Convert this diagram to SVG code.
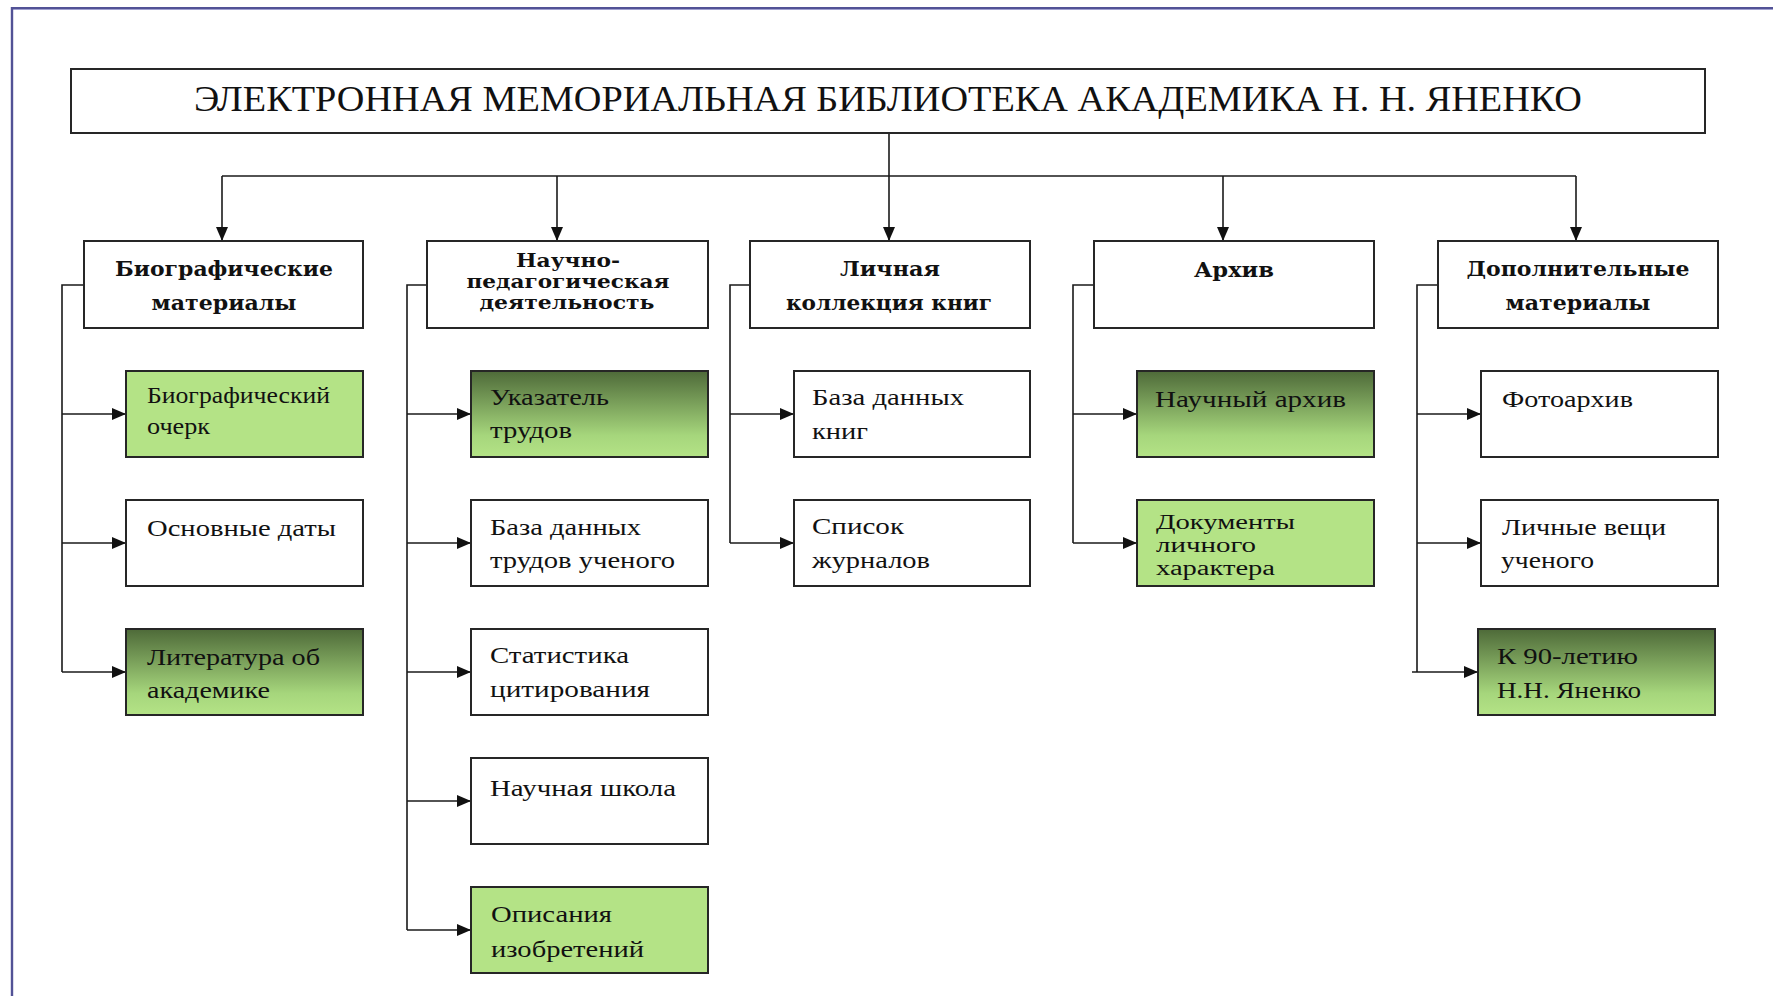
<svg xmlns="http://www.w3.org/2000/svg" width="1773" height="996" viewBox="0 0 1773 996">
<style>
.box{fill:#ffffff;stroke:#262626;stroke-width:2}
.lg{fill:#b4e386;stroke:#262626;stroke-width:2}
.gr{fill:url(#grad);stroke:#262626;stroke-width:2}
.ln{fill:none;stroke:#1a1a1a;stroke-width:1.6}
.ar{marker-end:url(#arr)}
.ttl{font-family:"Liberation Serif","Times New Roman",serif;font-size:35px;fill:#111}
.cat{font-family:"DejaVu Serif","Liberation Serif",serif;font-weight:bold;font-size:21px;fill:#111;text-anchor:middle}
.cat3{font-size:18px}
.ch{font-family:"Liberation Serif","Times New Roman",serif;font-size:24px;fill:#111}
.ch3{font-size:20px}
</style>
<defs>
<linearGradient id="grad" x1="0" y1="0" x2="0" y2="1">
<stop offset="0" stop-color="#4e6a39"/>
<stop offset="0.75" stop-color="#a6d67c"/>
<stop offset="1" stop-color="#b4e386"/>
</linearGradient>
<marker id="arr" markerUnits="userSpaceOnUse" markerWidth="14" markerHeight="12" refX="14" refY="6" orient="auto">
<path d="M0,0 L14,6 L0,12 z" fill="#111"/>
</marker>
</defs>
<rect width="1773" height="996" fill="#ffffff"/>
<g id="frame">
<line x1="12" y1="8" x2="1773" y2="8" stroke="#525296" stroke-width="2"/>
<line x1="12" y1="9.5" x2="1773" y2="9.5" stroke="#a0a0d0" stroke-width="1"/>
<line x1="12" y1="7" x2="12" y2="996" stroke="#525296" stroke-width="2.4"/>
</g>
<g id="connectors">
<path class="ln" d="M222,176 H1576"/>
<path class="ln ar" d="M889,133 V241"/>
<path class="ln ar" d="M222,176 V241"/>
<path class="ln ar" d="M557,176 V241"/>
<path class="ln ar" d="M1223,176 V241"/>
<path class="ln ar" d="M1576,176 V241"/>
<path class="ln" d="M84,285 H62 V672"/>
<path class="ln ar" d="M62,414 H126"/>
<path class="ln ar" d="M62,543 H126"/>
<path class="ln ar" d="M62,672 H126"/>
<path class="ln" d="M427,285 H407 V930"/>
<path class="ln ar" d="M407,414 H471"/>
<path class="ln ar" d="M407,543 H471"/>
<path class="ln ar" d="M407,672 H471"/>
<path class="ln ar" d="M407,801 H471"/>
<path class="ln ar" d="M407,930 H471"/>
<path class="ln" d="M750,285 H730 V543"/>
<path class="ln ar" d="M730,414 H794"/>
<path class="ln ar" d="M730,543 H794"/>
<path class="ln" d="M1094,285 H1073 V543"/>
<path class="ln ar" d="M1073,414 H1137"/>
<path class="ln ar" d="M1073,543 H1137"/>
<path class="ln" d="M1438,285 H1417 V672"/>
<path class="ln ar" d="M1417,414 H1481"/>
<path class="ln ar" d="M1417,543 H1481"/>
<path class="ln ar" d="M1412,672 H1478"/>
</g>
<g id="title">
<rect class="box" x="71" y="69" width="1634" height="64"/>
<text class="ttl" x="194" y="111" textLength="1388" lengthAdjust="spacingAndGlyphs">ЭЛЕКТРОННАЯ МЕМОРИАЛЬНАЯ БИБЛИОТЕКА АКАДЕМИКА Н. Н. ЯНЕНКО</text>
</g>
<g id="cat-bio">
<rect class="box" x="84" y="241" width="279" height="87"/>
<text class="cat" x="224" y="276" textLength="218" lengthAdjust="spacingAndGlyphs">Биографические</text>
<text class="cat" x="224" y="310" textLength="145" lengthAdjust="spacingAndGlyphs">материалы</text>
</g>
<g id="cat-sci">
<rect class="box" x="427" y="241" width="281" height="87"/>
<text class="cat cat3" x="568" y="267" textLength="104" lengthAdjust="spacingAndGlyphs">Научно-</text>
<text class="cat cat3" x="568" y="288" textLength="203" lengthAdjust="spacingAndGlyphs">педагогическая</text>
<text class="cat cat3" x="567" y="309" textLength="175" lengthAdjust="spacingAndGlyphs">деятельность</text>
</g>
<g id="cat-books">
<rect class="box" x="750" y="241" width="280" height="87"/>
<text class="cat" x="890" y="276" textLength="100" lengthAdjust="spacingAndGlyphs">Личная</text>
<text class="cat" x="889" y="310" textLength="206" lengthAdjust="spacingAndGlyphs">коллекция книг</text>
</g>
<g id="cat-archive">
<rect class="box" x="1094" y="241" width="280" height="87"/>
<text class="cat" x="1234" y="277" textLength="80" lengthAdjust="spacingAndGlyphs">Архив</text>
</g>
<g id="cat-extra">
<rect class="box" x="1438" y="241" width="280" height="87"/>
<text class="cat" x="1578" y="276" textLength="223" lengthAdjust="spacingAndGlyphs">Дополнительные</text>
<text class="cat" x="1578" y="310" textLength="145" lengthAdjust="spacingAndGlyphs">материалы</text>
</g>
<g id="bio-essay">
<rect class="lg" x="126" y="371" width="237" height="86"/>
<text class="ch" x="147" y="403" textLength="183" lengthAdjust="spacingAndGlyphs">Биографический</text>
<text class="ch" x="147" y="434" textLength="63" lengthAdjust="spacingAndGlyphs">очерк</text>
</g>
<g id="bio-dates">
<rect class="box" x="126" y="500" width="237" height="86"/>
<text class="ch" x="147" y="536" textLength="189" lengthAdjust="spacingAndGlyphs">Основные даты</text>
</g>
<g id="bio-lit">
<rect class="gr" x="126" y="629" width="237" height="86"/>
<text class="ch" x="147" y="665" textLength="173" lengthAdjust="spacingAndGlyphs">Литература об</text>
<text class="ch" x="147" y="698" textLength="123" lengthAdjust="spacingAndGlyphs">академике</text>
</g>
<g id="sci-index">
<rect class="gr" x="471" y="371" width="237" height="86"/>
<text class="ch" x="490" y="405" textLength="119" lengthAdjust="spacingAndGlyphs">Указатель</text>
<text class="ch" x="490" y="438" textLength="82" lengthAdjust="spacingAndGlyphs">трудов</text>
</g>
<g id="sci-db">
<rect class="box" x="471" y="500" width="237" height="86"/>
<text class="ch" x="490" y="535" textLength="151" lengthAdjust="spacingAndGlyphs">База данных</text>
<text class="ch" x="490" y="568" textLength="185" lengthAdjust="spacingAndGlyphs">трудов ученого</text>
</g>
<g id="sci-cite">
<rect class="box" x="471" y="629" width="237" height="86"/>
<text class="ch" x="490" y="663" textLength="139" lengthAdjust="spacingAndGlyphs">Статистика</text>
<text class="ch" x="490" y="697" textLength="160" lengthAdjust="spacingAndGlyphs">цитирования</text>
</g>
<g id="sci-school">
<rect class="box" x="471" y="758" width="237" height="86"/>
<text class="ch" x="490" y="796" textLength="186" lengthAdjust="spacingAndGlyphs">Научная школа</text>
</g>
<g id="sci-inv">
<rect class="lg" x="471" y="887" width="237" height="86"/>
<text class="ch" x="491" y="922" textLength="121" lengthAdjust="spacingAndGlyphs">Описания</text>
<text class="ch" x="491" y="957" textLength="153" lengthAdjust="spacingAndGlyphs">изобретений</text>
</g>
<g id="books-db">
<rect class="box" x="794" y="371" width="236" height="86"/>
<text class="ch" x="812" y="405" textLength="152" lengthAdjust="spacingAndGlyphs">База данных</text>
<text class="ch" x="812" y="439" textLength="56" lengthAdjust="spacingAndGlyphs">книг</text>
</g>
<g id="books-journals">
<rect class="box" x="794" y="500" width="236" height="86"/>
<text class="ch" x="812" y="534" textLength="92" lengthAdjust="spacingAndGlyphs">Список</text>
<text class="ch" x="812" y="568" textLength="118" lengthAdjust="spacingAndGlyphs">журналов</text>
</g>
<g id="arch-sci">
<rect class="gr" x="1137" y="371" width="237" height="86"/>
<text class="ch" x="1155" y="407" textLength="191" lengthAdjust="spacingAndGlyphs">Научный архив</text>
</g>
<g id="arch-docs">
<rect class="lg" x="1137" y="500" width="237" height="86"/>
<text class="ch ch3" x="1156" y="529" textLength="139" lengthAdjust="spacingAndGlyphs">Документы</text>
<text class="ch ch3" x="1156" y="552" textLength="100" lengthAdjust="spacingAndGlyphs">личного</text>
<text class="ch ch3" x="1156" y="575" textLength="119" lengthAdjust="spacingAndGlyphs">характера</text>
</g>
<g id="extra-photo">
<rect class="box" x="1481" y="371" width="237" height="86"/>
<text class="ch" x="1502" y="407" textLength="131" lengthAdjust="spacingAndGlyphs">Фотоархив</text>
</g>
<g id="extra-things">
<rect class="box" x="1481" y="500" width="237" height="86"/>
<text class="ch" x="1502" y="535" textLength="164" lengthAdjust="spacingAndGlyphs">Личные вещи</text>
<text class="ch" x="1501" y="568" textLength="93" lengthAdjust="spacingAndGlyphs">ученого</text>
</g>
<g id="extra-90">
<rect class="gr" x="1478" y="629" width="237" height="86"/>
<text class="ch" x="1497" y="664" textLength="141" lengthAdjust="spacingAndGlyphs">К 90-летию</text>
<text class="ch" x="1497" y="698" textLength="144" lengthAdjust="spacingAndGlyphs">Н.Н. Яненко</text>
</g>
</svg>
